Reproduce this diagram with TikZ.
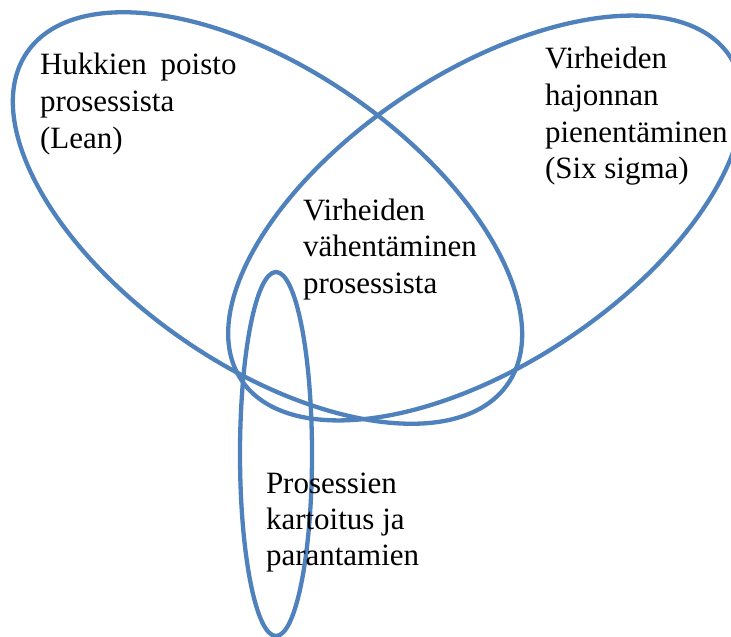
\documentclass[tikz,border=0pt]{standalone}
\usepackage{fontspec}
\setmainfont{Liberation Serif}
\definecolor{vennblue}{RGB}{79,129,189}
\tikzset{
  venn/.style={draw=vennblue, line width=4.3pt},
  lbl/.style={anchor=base west, inner sep=0pt, outer sep=0pt, font=\fontsize{31}{37}\selectfont, text=black}
}
\begin{document}
\begin{tikzpicture}[x=1pt, y=-1pt]
\useasboundingbox (0,0) rectangle (731,637);
% ellipses
\draw[venn, rotate around={-34.6:(267.5,218)}] (267.5,218) ellipse [x radius=292, y radius=148];
\draw[venn, rotate around={33.5:(485.5,218)}] (485.5,218) ellipse [x radius=293, y radius=146];
\draw[venn] (276,454) ellipse [x radius=36, y radius=182];
% left text
\node[lbl] (l1) at (40,74) {Hukkien\hspace{14pt}poisto};
\node[lbl] (l2) at (40,111) {prosessista};
\node[lbl] (l3) at (40,148) {(Lean)};
% right text
\node[lbl] (r1) at (545,68) {Virheiden};
\node[lbl] (r2) at (545,105) {hajonnan};
\node[lbl] (r3) at (545,142) {pienentäminen};
\node[lbl] (r4) at (545,178) {(Six sigma)};
% center text
\node[lbl] (c1) at (303,220) {Virheiden};
\node[lbl] (c2) at (303,256) {vähentäminen};
\node[lbl] (c3) at (303,293) {prosessista};
% bottom text
\node[lbl] (b1) at (266,493) {Prosessien};
\node[lbl] (b2) at (266,529) {kartoitus ja};
\node[lbl] (b3) at (266,565) {parantamien};
\end{tikzpicture}
\end{document}
